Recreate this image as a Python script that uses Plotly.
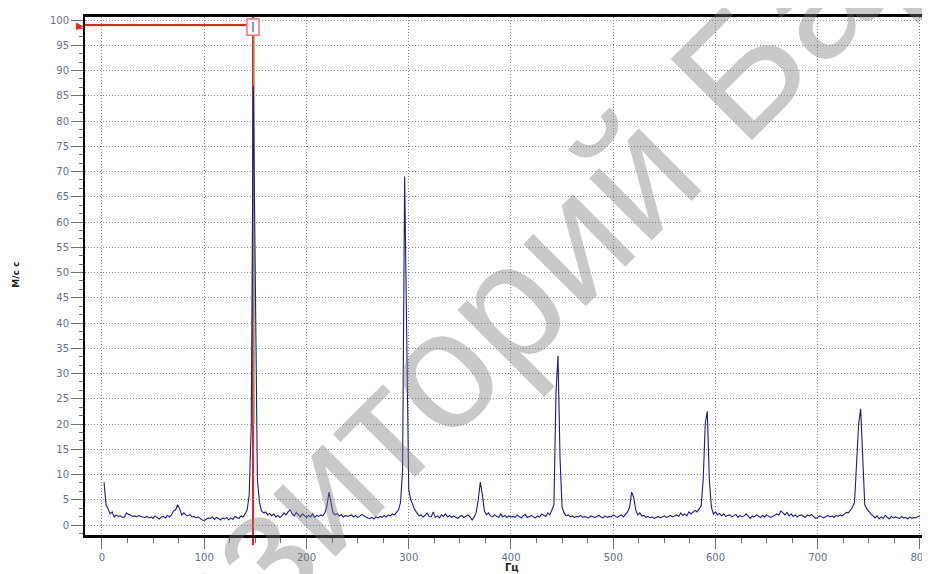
import plotly.graph_objects as go

# ---- data ----
freq_hz = list(range(2, 802, 2))

amplitude = [
    8.5, 4.0, 3.2, 2.2, 2.6, 1.6, 2.0, 1.7, 1.8, 1.5, 1.6, 2.4, 2.1, 2.0, 1.7, 1.8, 1.6, 1.9, 1.7, 1.6,
    1.5, 1.7, 1.4, 1.6, 1.3, 1.8, 1.5, 1.2, 1.6, 1.7, 1.4, 1.9, 1.6, 2.0, 2.8, 3.0, 4.0, 3.2, 2.0, 2.4,
    2.0, 1.8, 2.1, 1.6, 1.7, 1.4, 1.6, 1.2, 1.0, 0.9, 1.2, 1.4, 1.3, 1.6, 1.1, 1.5, 1.3, 1.0, 1.4, 1.2,
    1.5, 1.0, 1.4, 1.1, 1.7, 1.5, 1.3, 1.8, 1.6, 2.2, 3.0, 6.0, 20.0, 87.0, 45.0, 9.0, 4.5, 2.8, 2.4, 2.6,
    2.0, 2.3, 1.8, 2.2, 1.6, 1.9, 1.5, 1.8, 2.4, 2.0, 2.6, 3.0, 2.2, 1.8, 2.5, 2.0, 1.6, 2.2, 1.8, 1.5,
    1.9, 1.6, 2.2, 1.5, 1.9, 1.7, 2.0, 1.8, 2.4, 3.8, 6.5, 4.5, 2.4, 2.0, 2.3, 1.8, 2.1, 1.6, 1.9, 1.7,
    1.8, 2.0, 1.6, 1.9, 1.5, 1.7, 2.1, 1.8, 1.6, 1.4, 1.3, 1.5, 1.2, 1.6, 1.4, 1.7, 1.5, 1.9, 1.6, 2.0,
    1.8, 2.2, 2.0, 2.5, 3.0, 4.5, 11.0, 69.0, 33.0, 7.0, 5.0, 4.0, 3.0, 2.4, 1.8, 2.0, 1.6, 1.9, 2.4, 1.7,
    1.6, 2.6, 1.5, 1.8, 1.4, 2.0, 1.7, 2.2, 1.6, 1.9, 1.5, 1.8, 1.6, 1.3, 1.7, 1.9, 1.5, 1.8, 2.0, 1.6,
    1.0, 1.6, 2.5, 5.0, 8.5, 6.0, 2.8, 2.0, 2.4, 1.8, 1.6, 2.0, 1.7, 1.5, 2.2, 1.6, 1.9, 1.5, 1.8, 1.6,
    1.7, 1.5, 2.0, 1.6, 1.4, 1.8, 2.1, 1.5, 1.7, 1.9, 1.6, 1.4, 1.8, 1.6, 2.2, 1.9, 1.7, 2.4, 2.0, 3.0,
    4.0, 26.0, 33.5, 13.0, 3.5, 2.4, 1.8, 2.0, 1.6, 1.8, 1.5, 1.7, 1.6, 1.9, 1.5, 1.7, 1.6, 1.4, 1.8, 1.6,
    1.5, 1.7, 1.9, 1.6, 1.4, 1.8, 1.5, 1.7, 1.6, 2.0, 1.7, 1.5, 1.8, 2.0, 1.6, 2.2, 2.6, 3.5, 6.5, 5.5,
    3.0, 2.0, 2.4, 1.8, 1.9, 1.5, 1.7, 1.4, 1.6, 1.3, 1.5, 1.7, 1.4, 1.6, 1.8, 1.5, 1.7, 1.9, 1.6, 1.8,
    2.0, 1.7, 2.4, 1.9, 2.2, 1.8, 2.6, 2.2, 2.5, 2.9, 2.6, 3.2, 3.8, 9.0, 20.0, 22.5, 9.0, 3.5, 2.2, 2.6,
    2.0, 2.3, 1.8, 2.2, 1.7, 1.9, 2.0, 1.6, 1.8, 2.1, 1.5, 1.9, 1.6, 1.8, 2.2, 1.7, 1.3, 1.8, 1.6, 2.0,
    1.7, 1.5, 1.9, 1.6, 2.0, 1.8, 1.5, 1.7, 1.9, 2.2, 2.0, 2.8, 2.4, 2.0, 2.5, 1.8, 2.2, 1.7, 2.0, 1.6,
    1.9, 2.0, 1.7, 1.5, 2.0, 1.8, 2.1, 1.6, 1.3, 1.5, 1.8, 1.6, 1.4, 1.7, 1.9, 1.6, 1.8, 1.5, 1.9, 1.7,
    2.0, 1.8, 2.2, 2.5, 2.4, 3.0, 3.5, 4.5, 13.0, 20.0, 23.0, 13.0, 4.0, 3.2, 2.6, 2.2, 1.8, 1.4, 1.8, 1.2,
    1.6, 1.3, 1.9, 1.5, 1.2, 1.7, 1.4, 1.6, 1.5, 1.3, 1.7, 1.4, 1.5, 1.2, 1.6, 1.3, 1.5, 1.4, 1.7, 1.8,
]

x_tick_values = [0, 100, 200, 300, 400, 500, 600, 700, 800]
y_tick_values = list(range(0, 101, 5))

cursor_freq = 147.7
cursor_level = 99.0
green_bottom = 20.0

x_title = "Гц"
y_title = "М/с с"
watermark = "Репозиторий БарГУ"

X_RANGE = [-16.6, 809.8]
Y_RANGE = [-1.98, 100.6]

# ---- figure ----
fig = go.Figure()

fig.add_trace(go.Scatter(
    x=freq_hz, y=amplitude, mode="lines",
    line=dict(color="#1c1c88", width=1.1),
    hoverinfo="skip", showlegend=False,
))

label_font = dict(family="DejaVu Sans", size=10, color="#66708a")

# the page body has an 8px margin; margins are offset so the plot area
# lands at window x 85..930, y 17..535
fig.update_layout(
    width=930, height=574,
    margin=dict(l=77, r=8, t=9, b=47),
    paper_bgcolor="white", plot_bgcolor="white",
    showlegend=False,
    xaxis=dict(
        range=X_RANGE, tickvals=x_tick_values,
        ticktext=[str(v) for v in x_tick_values],
        automargin=False,
        showgrid=True, gridcolor="#8c8c8c", griddash="1px,2px", gridwidth=1,
        zeroline=False, showline=True, linecolor="black", linewidth=3,
        mirror=True,
        ticks="outside", ticklen=11, tickcolor="#707070", tickwidth=1,
        minor=dict(dtick=25, ticks="outside", ticklen=5, tickcolor="#707070", showgrid=False),
        tickfont=label_font,
    ),
    yaxis=dict(
        range=Y_RANGE, tickvals=y_tick_values,
        automargin=False,
        showgrid=True, gridcolor="#8c8c8c", griddash="1px,2px", gridwidth=1,
        zeroline=False, showline=True, linecolor="black", linewidth=2,
        ticks="outside", ticklen=12, tickcolor="#707070", tickwidth=1,
        minor=dict(dtick=5/3, tick0=0, ticks="outside", ticklen=4, tickcolor="#707070", showgrid=False),
        tickfont=label_font,
    ),
)

# cursor lines
fig.add_shape(type="line", xref="x", yref="paper", x0=cursor_freq, x1=cursor_freq,
              y0=-0.02, y1=1.0, line=dict(color="#ff1a1a", width=2), layer="between")
fig.add_shape(type="line", xref="x", yref="y", x0=cursor_freq + 1.2, x1=cursor_freq + 1.2,
              y0=green_bottom, y1=Y_RANGE[1], line=dict(color="#5fe08a", width=1.5), layer="between")
fig.add_shape(type="line", xref="x", yref="y", x0=X_RANGE[0], x1=cursor_freq,
              y0=cursor_level, y1=cursor_level, line=dict(color="#ff1a1a", width=2), layer="above")
fig.add_shape(type="rect", xref="x", yref="y", x0=cursor_freq - 5.9, x1=cursor_freq + 5.9,
              y0=97.0, y1=100.2, line=dict(color="#ff7070", width=1.5),
              fillcolor="white", layer="above")
fig.add_shape(type="line", xref="x", yref="y", x0=cursor_freq, x1=cursor_freq,
              y0=97.6, y1=99.6, line=dict(color="#6a6ad0", width=1.5), layer="above")

# cursor marker on the y axis
fig.add_annotation(text="▶", xref="paper", yref="y", x=0, y=cursor_level,
                   xanchor="right", yanchor="middle", showarrow=False, xshift=1,
                   font=dict(color="#ff1a1a", size=10))

# axis titles
fig.add_annotation(text=f"<b>{x_title}</b>", xref="paper", yref="paper",
                   x=(512 - 85) / 845, y=-0.062, xanchor="center", yanchor="middle",
                   showarrow=False, font=dict(family="DejaVu Sans", size=10, color="#222"))
fig.add_annotation(text=f"<b>{y_title}</b>", xref="paper", yref="paper",
                   x=-0.082, y=(535 - 275) / 518, xanchor="center", yanchor="middle",
                   textangle=-90, showarrow=False,
                   font=dict(family="DejaVu Sans", size=9, color="#222"))

# watermark
fig.add_annotation(text=watermark, xref="paper", yref="paper",
                   x=(507 - 85) / 845, y=(535 - 303) / 518,
                   xanchor="center", yanchor="middle", textangle=-45, showarrow=False,
                   font=dict(family="Liberation Sans", size=167, color="rgba(120,120,120,0.4)"))

fig.write_html("out.html")
